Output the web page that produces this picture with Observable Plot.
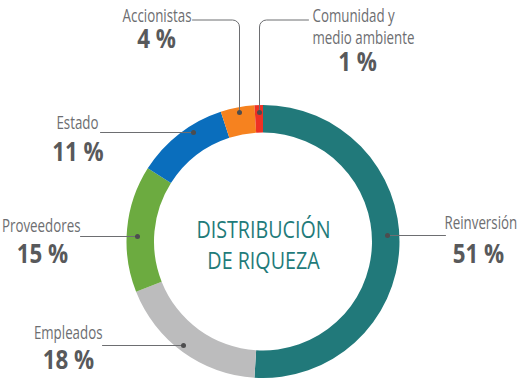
<!DOCTYPE html>
<html><head><meta charset="utf-8">
<script src="https://cdn.jsdelivr.net/npm/d3@7"></script>
<script src="https://cdn.jsdelivr.net/npm/@observablehq/plot@0.6"></script>
<style>
html,body{margin:0;padding:0;background:#fff;}
#chart svg{display:block;}
</style></head><body><div id="chart"></div>
<script>
// ---- data ----
const categories = ["Reinversión", "Empleados", "Proveedores", "Estado", "Accionistas", "Comunidad y\nmedio ambiente"];
const values = [51, 18, 15, 11, 4, 1];
const title = "DISTRIBUCIÓN\nDE RIQUEZA";

// ---- styles ----
const colors = ["#21797a", "#bcbcbd", "#6cab40", "#0a6ebd", "#f6821f", "#ee3124"];
const FONT = "'Open Sans', 'Noto Sans', sans-serif";
const NAME_SIZE = 18, PCT_SIZE = 26, TITLE_SIZE = 24;
// horizontal condensing (the reference uses a condensed face)
const condense = {[NAME_SIZE]: 0.74, [PCT_SIZE]: 0.86, [TITLE_SIZE]: 0.82};

// ---- layout (pixel space) ----
const W = 530, H = 389;
const cx = 263, cy = 241.5, rOuter = 136.5, rInner = 109;

// label anchors: category name, percent, leader line
const layout = [
  {name: [444, 228, "start"], pct: [478, 262], line: [[387, 235], [445, 235]]},
  {name: [102, 338, "end"], pct: [68, 368], line: [[102, 345], [183, 345]]},
  {name: [80, 231, "end"], pct: [42, 262], line: [[80, 236], [137, 236]]},
  {name: [98, 128, "end"], pct: [77.5, 160], line: [[100, 132], [193, 132]]},
  {name: [191, 21, "end"], pct: [156, 47], line: [[192, 19.5], [232, 19.5], [234.7, 20], [237, 21.6], [238.5, 23.8], [239, 26.5], [239, 112]]},
  {name: [312, 43, "start"], pct: [357, 70], line: [[308, 19.5], [266, 19.5], [263.3, 20], [261, 21.6], [259.5, 23.8], [259, 26.5], [259, 112]]}
];

const slices = categories.map((c, i) => ({category: c, value: values[i]}));
const nameRows = slices.map((d, i) => ({text: d.category, x: layout[i].name[0], y: layout[i].name[1], anchor: layout[i].name[2]}));
const pctRows = slices.map((d, i) => ({text: `${d.value} %`, x: layout[i].pct[0], y: layout[i].pct[1]}));
const lineRows = slices.flatMap((d, i) => layout[i].line.map(([x, y]) => ({z: d.category, x, y})));
const dotRows = slices.map((d, i) => { const p = layout[i].line[i === 0 ? 0 : layout[i].line.length - 1]; return {x: p[0], y: p[1]}; });

const color = Plot.scale({color: {type: "ordinal", domain: categories, range: colors}});

function donut(index, scales) {
  const x0 = scales.x(cx), y0 = scales.y(cy);
  const k = Math.abs(scales.x(1) - scales.x(0));
  const arcs = d3.pie().sort(null).value(d => d.value)(slices);
  const arc = d3.arc().innerRadius(rInner * k).outerRadius(rOuter * k);
  const g = d3.create("svg:g").attr("transform", `translate(${x0},${y0})`);
  g.selectAll("path").data(arcs).join("path")
    .attr("d", arc)
    .attr("fill", d => color.apply(d.data.category));
  return g.node();
}

const chart = Plot.plot({
  width: W, height: H,
  margin: 0,
  x: {domain: [0, W], range: [0, W], axis: null},
  y: {domain: [0, H], range: [0, H], axis: null},
  style: {background: "#fff"},
  marks: [
    donut,
    Plot.line(lineRows, {x: "x", y: "y", z: "z", stroke: "#6d6e71", strokeWidth: 1}),
    Plot.dot(dotRows, {x: "x", y: "y", r: 2.5, fill: "#4d4d4f", stroke: null}),
    Plot.text(nameRows.filter(d => d.anchor === "start"), {x: "x", y: "y", text: "text", textAnchor: "start", lineAnchor: "bottom", lineHeight: 1.22, fontSize: NAME_SIZE, fill: "#6d6e71", fontFamily: FONT}),
    Plot.text(nameRows.filter(d => d.anchor === "end"), {x: "x", y: "y", text: "text", textAnchor: "end", lineAnchor: "bottom", lineHeight: 1.22, fontSize: NAME_SIZE, fill: "#6d6e71", fontFamily: FONT}),
    Plot.text(pctRows, {x: "x", y: "y", text: "text", textAnchor: "middle", lineAnchor: "bottom", fontSize: PCT_SIZE, fontWeight: "bold", fill: "#58595b", fontFamily: FONT}),
    Plot.text([title], {x: () => cx, y: () => 268, text: d => d, textAnchor: "middle", lineAnchor: "bottom", lineHeight: 1.29, fontSize: TITLE_SIZE, fill: "#1f7b7a", fontFamily: FONT})
  ]
});
document.getElementById("chart").append(chart);

// condense text horizontally to mimic the condensed typeface
chart.querySelectorAll("g[font-size]").forEach(g => {
  const f = condense[+g.getAttribute("font-size")];
  if (!f) return;
  g.querySelectorAll("text").forEach(t => {
    const parts = t.querySelectorAll("tspan");
    (parts.length ? [...parts] : [t]).forEach(el => {
      const w = el.getComputedTextLength();
      el.setAttribute("textLength", (w * f).toFixed(1));
      el.setAttribute("lengthAdjust", "spacingAndGlyphs");
    });
  });
});
</script>
</body></html>
